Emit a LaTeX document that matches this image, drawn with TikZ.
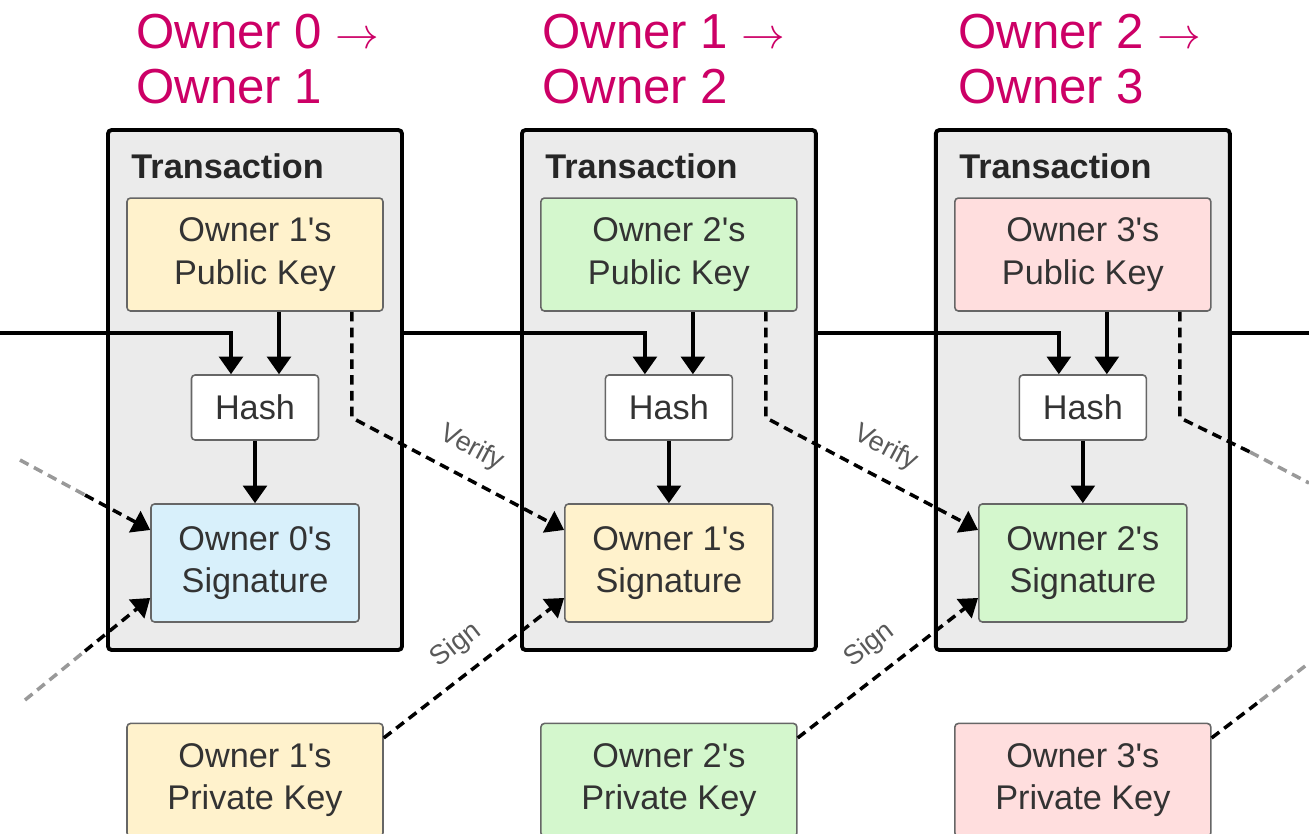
\documentclass[tikz,border=0pt]{standalone}
\usepackage{fontspec}
\setmainfont{Liberation Sans}
\usetikzlibrary{arrows.meta, positioning}

\definecolor{ownerpink}{HTML}{CC0066}
\definecolor{txgray}{HTML}{EBEBEB}
\definecolor{keyyellow}{HTML}{FFF2CC}
\definecolor{keygreen}{HTML}{D4F7CD}
\definecolor{keyred}{HTML}{FFDEDE}
\definecolor{sigblue}{HTML}{D8F0FB}
\definecolor{boxtext}{HTML}{333333}

\newcommand{\ap}{\textquotesingle}

\begin{document}
\begin{tikzpicture}[
        x = 0.02cm, y = -0.02cm, on grid,
        >= {Triangle[length = 10pt, width = 13.5pt]},
        every node/.style = {font = \fontsize{19.5}{24}\selectfont, text = boxtext},
        tx/.style = {draw, line width = 2.2pt, fill = txgray, rounded corners = 2pt,
                     minimum width = 5.88cm, minimum height = 10.4cm},
        txtitle/.style = {font = \bfseries\fontsize{19.5}{24}\selectfont, text = black!85,
                          anchor = north west, inner sep = 0pt},
        keybox/.style = {draw = black!60, line width = 0.9pt, rounded corners = 2pt, align = center,
                         minimum width = 5.12cm, minimum height = 2.26cm},
        hashbox/.style = {keybox, fill = white, minimum width = 2.54cm, minimum height = 1.3cm},
        sigbox/.style = {keybox, minimum width = 4.16cm, minimum height = 2.36cm},
        owner/.style = {font = \fontsize{28}{31.3}\selectfont, text = ownerpink, align = left,
                        anchor = north west, inner sep = 0pt},
        link/.style = {->, line width = 2pt},
        sig link/.style = {link, dash pattern = on 5.5pt off 3.5pt},
        faded/.style = {line width = 2pt, dash pattern = on 5.5pt off 3.5pt, draw = black!40},
        tag/.style = {font = \fontsize{15.5}{15.5}\selectfont, text = black!65, sloped, above = 5pt}
    ]
    \useasboundingbox (0,0) rectangle (1309,833);

    % who hands the coin to whom
    \node[owner] (o1) at (136,14) {Owner 0 $\rightarrow$\\Owner 1};
    \node[owner] (o2) at (542,14) {Owner 1 $\rightarrow$\\Owner 2};
    \node[owner] (o3) at (958,14) {Owner 2 $\rightarrow$\\Owner 3};

    % transactions
    \node[tx] (tx1) at (255,390) {};
    \node[tx] (tx2) [right = 8.28cm of tx1] {};
    \node[tx] (tx3) [right = 8.28cm of tx2] {};
    \node[txtitle] (t1) at ([xshift = 0.5cm, yshift = -0.5cm] tx1.north west) {Transaction};
    \node[txtitle] (t2) at ([xshift = 0.5cm, yshift = -0.5cm] tx2.north west) {Transaction};
    \node[txtitle] (t3) at ([xshift = 0.5cm, yshift = -0.5cm] tx3.north west) {Transaction};

    \node[keybox, fill = keyyellow] (p1) [above = 2.71cm of tx1] {Owner 1\ap s\\Public Key};
    \node[hashbox] (h1) [below = 3.06cm of p1] {Hash};
    \node[sigbox, fill = sigblue] (s1) [below = 3.11cm of h1] {Owner 0\ap s\\Signature};
    \node[keybox, fill = keyyellow] (k1) [below = 4.34cm of s1] {Owner 1\ap s\\Private Key};

    \node[keybox, fill = keygreen] (p2) [above = 2.71cm of tx2] {Owner 2\ap s\\Public Key};
    \node[hashbox] (h2) [below = 3.06cm of p2] {Hash};
    \node[sigbox, fill = keyyellow] (s2) [below = 3.11cm of h2] {Owner 1\ap s\\Signature};
    \node[keybox, fill = keygreen] (k2) [below = 4.34cm of s2] {Owner 2\ap s\\Private Key};

    \node[keybox, fill = keyred] (p3) [above = 2.71cm of tx3] {Owner 3\ap s\\Public Key};
    \node[hashbox] (h3) [below = 3.06cm of p3] {Hash};
    \node[sigbox, fill = keygreen] (s3) [below = 3.11cm of h3] {Owner 2\ap s\\Signature};
    \node[keybox, fill = keyred] (k3) [below = 4.34cm of s3] {Owner 3\ap s\\Private Key};

    % loose ends at the sides
    \coordinate (in) at (0,333);
    \coordinate (out) at (1309,333);
    \coordinate (v0) at (20,460);
    \coordinate (v1) at (85,495);
    \coordinate (g0) at (25,700);
    \coordinate (g1) at (85,651);
    \coordinate (w1) at (1250,452);
    \coordinate (w0) at (1309,483);
    \coordinate (z1) at (1260,701);
    \coordinate (z0) at (1309,663);

    % chain of hashes
    \draw[link] (in) -| ([xshift = -0.48cm] h1.north);
    \draw[link] (tx1.east |- in) -| ([xshift = -0.48cm] h2.north);
    \draw[link] (tx2.east |- in) -| ([xshift = -0.48cm] h3.north);
    \draw[line width = 2pt] (tx3.east |- in) -- (out);

    \draw[link] ([xshift = 0.48cm] p1.south) -- ([xshift = 0.48cm] h1.north);
    \draw[link] ([xshift = 0.48cm] p2.south) -- ([xshift = 0.48cm] h2.north);
    \draw[link] ([xshift = 0.48cm] p3.south) -- ([xshift = 0.48cm] h3.north);
    \draw[link] (h1) -- (s1);
    \draw[link] (h2) -- (s2);
    \draw[link] (h3) -- (s3);

    % verify and sign
    \draw[faded] (v0) -- (v1);
    \draw[sig link] (v1) -- ([yshift = 0.66cm] s1.west);
    \draw[faded] (g0) -- (g1);
    \draw[sig link] (g1) -- ([yshift = -0.7cm] s1.west);

    \draw[sig link] ([xshift = 1.94cm] p1.south) -- ++(0,-2.12cm)
        -- node[tag] {Verify} ([yshift = 0.66cm] s2.west);
    \draw[sig link] ([yshift = 0.84cm] k1.east) -- node[tag] {Sign} ([yshift = -0.7cm] s2.west);
    \draw[sig link] ([xshift = 1.94cm] p2.south) -- ++(0,-2.12cm)
        -- node[tag] {Verify} ([yshift = 0.66cm] s3.west);
    \draw[sig link] ([yshift = 0.84cm] k2.east) -- node[tag] {Sign} ([yshift = -0.7cm] s3.west);

    \draw[sig link, -] ([xshift = 1.94cm] p3.south) -- ++(0,-2.12cm) -- (w1);
    \draw[faded] (w1) -- (w0);
    \draw[sig link, -] ([yshift = 0.84cm] k3.east) -- (z1);
    \draw[faded] (z1) -- (z0);
\end{tikzpicture}
\end{document}
